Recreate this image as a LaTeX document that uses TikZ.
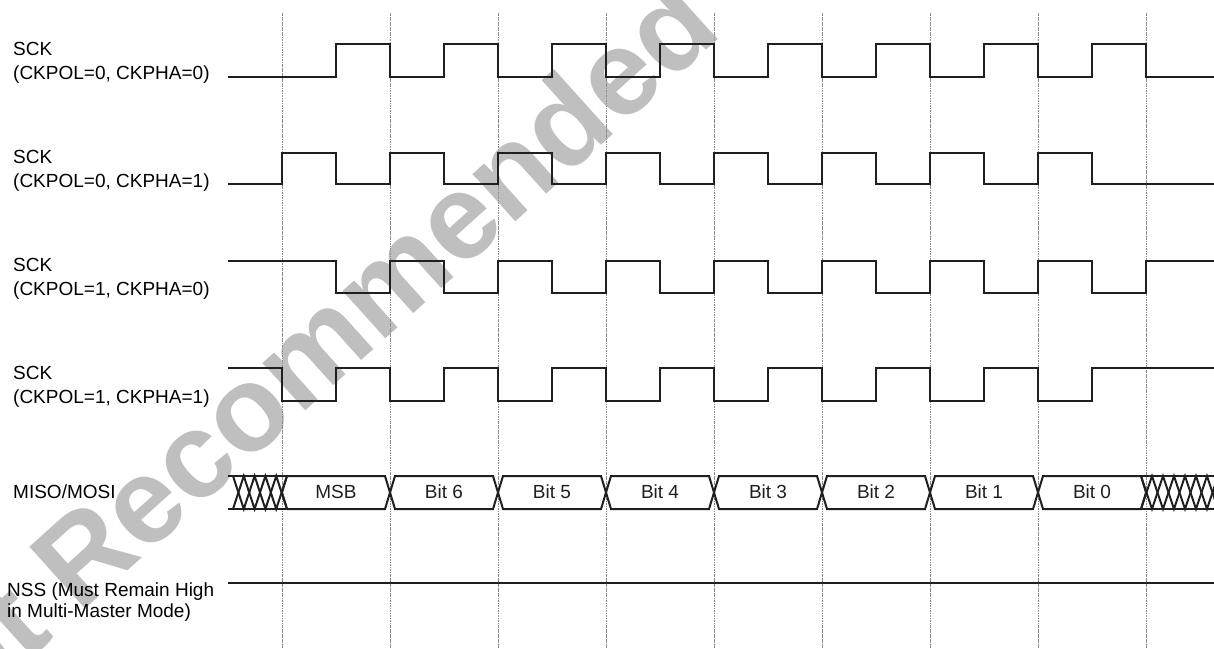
\documentclass[tikz,border=0pt]{standalone}
\usepackage{fontspec}
\setmainfont{Liberation Sans}
\begin{document}
\begin{tikzpicture}[x=1pt,y=-1pt,
  sig/.style={line width=2.3pt, black!88, line join=miter},
  bus/.style={line width=2pt, black!88, line join=miter},
  vgrid/.style={black!45, line width=0.8pt, dash pattern=on 2.5pt off 1pt on 0.6pt off 1pt},
  lbl/.style={anchor=base west, inner sep=0pt, font=\fontsize{19}{24}\selectfont},
  lblnss/.style={anchor=base west, inner sep=0pt, font=\fontsize{19}{21}\selectfont},
  bitlbl/.style={anchor=base, inner sep=0pt, font=\fontsize{19}{24}\selectfont, black!88},
  wm/.style={black!25, font=\fontsize{121}{121}\selectfont\bfseries, rotate=42, anchor=base west, inner sep=0pt}]
\useasboundingbox (0,0) rectangle (1214,648);
\begin{scope}
\clip (0,0) rectangle (1214,648);
% watermark
\node[wm] (wm) at (-95,772) {Not Recommended};
% vertical guide lines
\foreach \k in {0,...,8} \draw[vgrid] ({282+108*\k},13) -- ({282+108*\k},648);
% labels
\node[lbl] (l1) at (13,55) {\begin{tabular}[t]{@{}l@{}}SCK\\(CKPOL=0, CKPHA=0)\end{tabular}};
\node[lbl] (l2) at (13,163) {\begin{tabular}[t]{@{}l@{}}SCK\\(CKPOL=0, CKPHA=1)\end{tabular}};
\node[lbl] (l3) at (13,271) {\begin{tabular}[t]{@{}l@{}}SCK\\(CKPOL=1, CKPHA=0)\end{tabular}};
\node[lbl] (l4) at (13,379) {\begin{tabular}[t]{@{}l@{}}SCK\\(CKPOL=1, CKPHA=1)\end{tabular}};
\node[lbl] (l5) at (13,498) {MISO/MOSI};
\node[lblnss] (l6) at (7,596) {\begin{tabular}[t]{@{}l@{}}NSS (Must Remain High\\in Multi-Master Mode)\end{tabular}};
% SCK waveforms
\draw[sig] (228,77) \foreach \k in {0,...,7} { -- ({336+108*\k},77) -- ({336+108*\k},44) -- ({390+108*\k},44) -- ({390+108*\k},77) } -- (1214,77);
\draw[sig] (228,184) \foreach \k in {0,...,7} { -- ({282+108*\k},184) -- ({282+108*\k},153) -- ({336+108*\k},153) -- ({336+108*\k},184) } -- (1214,184);
\draw[sig] (228,261) \foreach \k in {0,...,7} { -- ({336+108*\k},261) -- ({336+108*\k},293) -- ({390+108*\k},293) -- ({390+108*\k},261) } -- (1214,261);
\draw[sig] (228,368) \foreach \k in {0,...,7} { -- ({282+108*\k},368) -- ({282+108*\k},401) -- ({336+108*\k},401) -- ({336+108*\k},368) } -- (1214,368);
% MISO/MOSI bus
\draw[bus] (228,476) -- (287,476);
\draw[bus] (228,509) -- (287,509);
\draw[bus] (233,476) -- (243.8,509) -- (254.6,476) -- (265.4,509) -- (276.2,476) -- (287,509);
\draw[bus] (233,509) -- (243.8,476) -- (254.6,509) -- (265.4,476) -- (276.2,509) -- (287,476);
\foreach \t [count=\j from 0] in {MSB,Bit 6,Bit 5,Bit 4,Bit 3,Bit 2,Bit 1,Bit 0} {
  \pgfmathsetmacro\a{282+108*\j}
  \pgfmathsetmacro\b{\a+108}
  \draw[bus] (\a,492.5) -- (\a+5,476) -- (\b-5,476) -- (\b,492.5) -- (\b-5,509) -- (\a+5,509) -- cycle;
  \node[bitlbl] (b\j) at (\a+54,498) {\t};
}
\draw[bus] (1141,476) -- (1214,476);
\draw[bus] (1141,509) -- (1214,509);
\draw[bus] (1141,476) -- (1152,509) -- (1163,476) -- (1174,509) -- (1185,476) -- (1196,509) -- (1207,476) -- (1218,509);
\draw[bus] (1141,509) -- (1152,476) -- (1163,509) -- (1174,476) -- (1185,509) -- (1196,476) -- (1207,509) -- (1218,476);
% NSS
\draw[sig] (228,583) -- (1214,583);
\end{scope}
\end{tikzpicture}
\end{document}
